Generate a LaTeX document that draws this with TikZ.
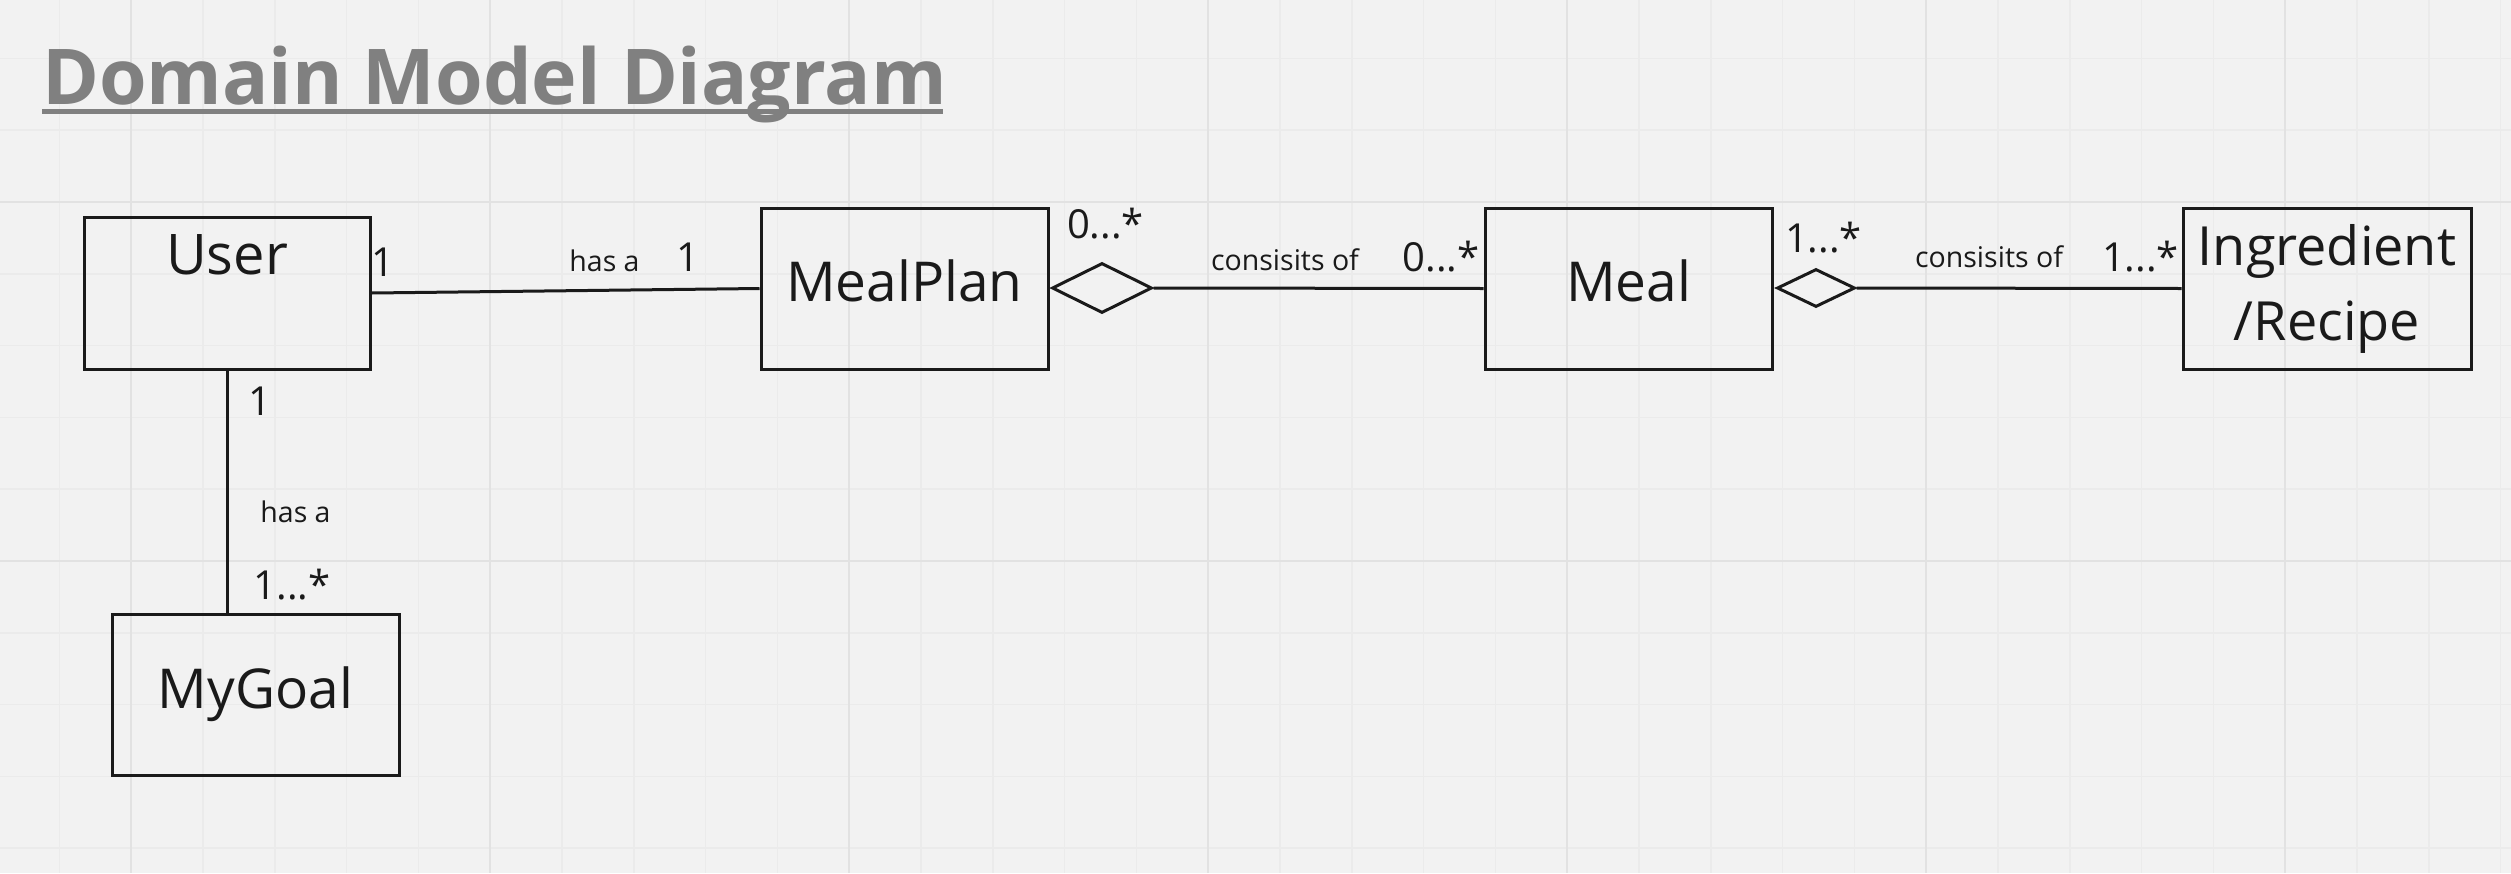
\documentclass[tikz,border=0pt]{standalone}
\usepackage{fontspec}
\setmainfont{Open Sans}
\usetikzlibrary{shapes.geometric}
\definecolor{bg}{HTML}{F2F2F2}
\definecolor{gridminor}{HTML}{EBEBEB}
\definecolor{gridmajor}{HTML}{E2E2E2}
\definecolor{ink}{HTML}{1A1A1A}
\definecolor{titlegray}{HTML}{808080}
\begin{document}
\begin{tikzpicture}[x=1pt,y=-1pt,
  box/.style={draw=ink, line width=3pt, inner sep=0pt, text=ink, font=\fontsize{55}{66}\selectfont},
  conn/.style={draw=ink, line width=3pt},
  agg/.style={diamond, draw=ink, line width=3pt, inner sep=0pt},
  mult/.style={anchor=base, inner sep=0pt, text=ink, font=\fontsize{40}{48}\selectfont},
  rel/.style={anchor=base, inner sep=0pt, text=ink, font=\fontsize{28.5}{34}\selectfont},
]
\useasboundingbox (0,0) rectangle (2511,873);
\fill[bg] (0,0) rectangle (2511,873);
\foreach \i in {0,...,34} { \draw[gridminor, line width=1.5pt] ({59.4+71.8*\i},0) -- ({59.4+71.8*\i},873); }
\foreach \j in {0,...,11} { \draw[gridminor, line width=1.5pt] (0,{58.4+71.8*\j}) -- (2511,{58.4+71.8*\j}); }
\foreach \i in {0,...,6} { \draw[gridmajor, line width=2pt] ({131.2+359*\i},0) -- ({131.2+359*\i},873); }
\foreach \j in {0,1} { \draw[gridmajor, line width=2pt] (0,{202+359*\j}) -- (2511,{202+359*\j}); }

% title
\node[anchor=base west, inner sep=0pt, text=titlegray, font=\fontsize{77}{90}\selectfont\bfseries] (title) at (42,104) {Domain Model Diagram};
\draw[titlegray, line width=5pt] (42,111.5) -- (943,111.5);

% classes
\node[box, minimum width=286pt, minimum height=152pt, font=\fontsize{56}{66}\selectfont, text depth=76pt] (user) at (227,293) {User};
\node[box, minimum width=287pt, minimum height=161pt, text depth=15pt] (mealplan) at (904.5,288.5) {MealPlan};
\node[box, minimum width=287pt, minimum height=161pt, text depth=15pt] (meal) at (1628.5,288.5) {Meal};
\node[box, minimum width=288pt, minimum height=161pt, align=center, font=\fontsize{54}{75}\selectfont] (ingr) at (2327,288.5) {Ingredient\\/Recipe};
\node[box, minimum width=287pt, minimum height=161pt] (mygoal) at (255.5,694.5) {MyGoal};

% aggregation diamonds
\node[agg, minimum width=100pt, minimum height=50pt] (d1) at (1102,288) {};
\node[agg, minimum width=78pt, minimum height=38pt] (d2) at (1816,288) {};

% connectors
\draw[conn] (user.east) -- (mealplan.west);
\draw[conn] (d1.east) -- (meal.west);
\draw[conn] (d2.east) -- (ingr.west);
\draw[conn] (user.south) -- (user.south |- mygoal.north);

% labels
\node[mult] (m1) at (383,276) {1};
\node[rel] (r1) at (604.5,271) {has a};
\node[mult] (m2) at (687.5,271) {1};
\node[mult] (m3) at (1105.5,238) {0...*};
\node[rel] (r2) at (1285,270) {consisits of};
\node[mult] (m4) at (1441,271) {0...*};
\node[mult] (m5) at (1823.5,252) {1...*};
\node[rel] (r3) at (1989,267) {consisits of};
\node[mult] (m6) at (2140.5,271) {1...*};
\node[mult] (m7) at (260,415) {1};
\node[rel] (r4) at (295.5,522) {has a};
\node[mult] (m8) at (292,599) {1...*};
\end{tikzpicture}
\end{document}
